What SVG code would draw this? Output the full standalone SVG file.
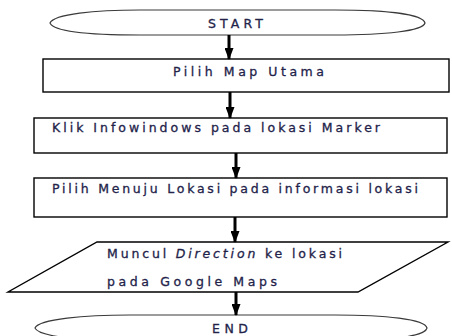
<svg xmlns="http://www.w3.org/2000/svg" width="452" height="336" viewBox="0 0 452 336">
  <style>
    .shape { fill: #ffffff; stroke: #000000; stroke-width: 1.4; }
    .term { fill: #ffffff; stroke: #3a3a3a; stroke-width: 1.2; }
    .label { font-family: "DejaVu Sans", "Open Sans", sans-serif; font-size: 12.5px; fill: #23234a; stroke: #23234a; stroke-width: 0.3; }
    .flow { stroke: #000000; stroke-width: 3; fill: none; marker-end: url(#head); }
  </style>
  <defs>
    <marker id="head" viewBox="0 0 12 9" refX="11" refY="4.5" markerUnits="userSpaceOnUse" markerWidth="12" markerHeight="9" orient="auto">
      <path d="M0,0 L12,4.5 L0,9 Z" fill="#000000"/>
    </marker>
  </defs>

  <!-- Terminator: START -->
  <g id="start">
    <path class="term" d="M50,23 C54,14 95,10 140,10 L335,10 C385,10 423,14 425,23 C423,31 385,35 335,35 L140,35 C95,35 54,32 50,23 Z"/>
    <text class="label" x="208" y="27.5" textLength="55" lengthAdjust="spacing">START</text>
  </g>

  <!-- Process: choose main map -->
  <g id="pilih-map">
    <rect class="shape" x="43" y="59" width="406" height="33"/>
    <text class="label" x="173" y="75.5" textLength="151" lengthAdjust="spacing">Pilih Map Utama</text>
  </g>

  <!-- Process: click info window -->
  <g id="klik-infowindows">
    <rect class="shape" x="34" y="118" width="413" height="35"/>
    <text class="label" x="52" y="131.5" textLength="328" lengthAdjust="spacing">Klik Infowindows pada lokasi Marker</text>
  </g>

  <!-- Process: choose route to location -->
  <g id="pilih-menuju">
    <rect class="shape" x="34" y="178" width="413" height="39"/>
    <text class="label" x="52" y="192.5" textLength="366" lengthAdjust="spacing">Pilih Menuju Lokasi pada informasi lokasi</text>
  </g>

  <!-- Output: direction shown on Google Maps -->
  <g id="direction">
    <polygon class="shape" points="97,242 448,242 358,292 8,292"/>
    <text class="label" x="107" y="257.5" textLength="235" lengthAdjust="spacing">Muncul <tspan font-style="italic">Direction</tspan> ke lokasi</text>
    <text class="label" x="107" y="285.5" textLength="170" lengthAdjust="spacing">pada Google Maps</text>
  </g>

  <!-- Terminator: END -->
  <g id="end">
    <path class="term" d="M35,328 C39,319 85,315 130,315 L335,315 C385,315 425,319 427,328 C425,337 385,341 335,341 L130,341 C85,341 39,337 35,328 Z"/>
    <text class="label" x="212" y="332.5" textLength="36" lengthAdjust="spacing">END</text>
  </g>

  <!-- Connectors -->
  <g id="connectors">
    <line class="flow" x1="229" y1="35" x2="229" y2="59"/>
    <line class="flow" x1="230" y1="92" x2="230" y2="118"/>
    <line class="flow" x1="236" y1="153" x2="236" y2="178"/>
    <line class="flow" x1="235" y1="217" x2="235" y2="242"/>
    <line class="flow" x1="236" y1="292" x2="236" y2="315"/>
  </g>
</svg>
